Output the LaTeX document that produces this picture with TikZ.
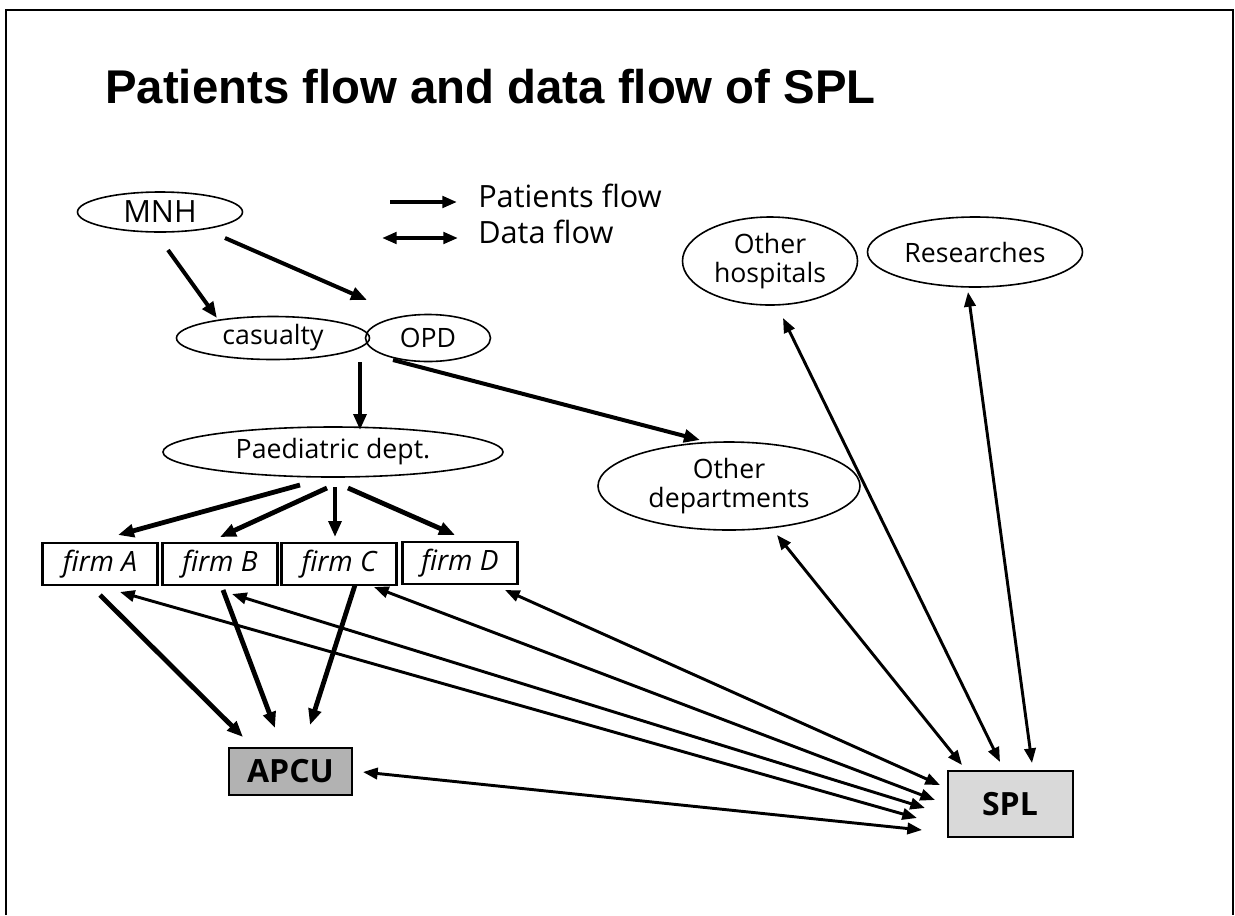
\documentclass[tikz,border=0pt]{standalone}
\usepackage{fontspec}
\setmainfont{Open Sans}
\newfontfamily\titlefont{Liberation Sans}
\usetikzlibrary{arrows.meta,shapes.geometric}
\begin{document}
\begin{tikzpicture}[x=0.75pt,y=-0.75pt,
  oval/.style={ellipse, draw, line width=1.2pt, inner sep=0pt, align=center,
    font=\fontsize{20}{21.5}\selectfont},
  firmbox/.style={rectangle, draw, line width=1.6pt, inner sep=0pt,
    minimum width=86.25pt, minimum height=31.5pt, font=\fontsize{21}{22}\selectfont\itshape},
  grbox/.style={rectangle, draw, line width=1.5pt, inner sep=0pt,
    font=\fontsize{24}{26}\selectfont\bfseries},
  pat/.style={line width=3pt, -{Triangle[length=12pt,width=9.5pt]}},
  data/.style={line width=2.2pt, {Triangle[length=11pt,width=8.5pt]}-{Triangle[length=11pt,width=8.5pt]}},
  legtext/.style={anchor=base west, inner sep=0pt, font=\fontsize{23}{25}\selectfont}]
\useasboundingbox (0,0) rectangle (1235,915);
% frame
\draw[line width=2.2pt] (6,915) -- (6,10) -- (1233,10) -- (1233,915);
% title
\node[anchor=base west, inner sep=0pt, font=\titlefont\bfseries\fontsize{35.5}{40}\selectfont]
  (title) at (105,103) {Patients flow and data flow of SPL};
% legend
\coordinate (lp1) at (390,202); \coordinate (lp2) at (457,202);
\coordinate (ld1) at (382,238); \coordinate (ld2) at (458,238);
\draw[line width=2.8pt, -{Triangle[length=11pt,width=8.5pt]}] (lp1) -- (lp2);
\draw[line width=2.8pt, {Triangle[length=11pt,width=8.5pt]}-{Triangle[length=11pt,width=8.5pt]}] (ld1) -- (ld2);
\node[legtext] (lgp) at (478,207) {Patients flow};
\node[legtext] (lgd) at (478,243) {Data flow};
% nodes
\node[oval, minimum width=123.75pt, minimum height=30pt, font=\fontsize{23}{25}\selectfont] (MNH) at (160,212) {MNH};
\node[oval, minimum width=144.75pt, minimum height=32.25pt] (cas) at (273,338) {casualty};
\node[oval, minimum width=93.75pt, minimum height=35.25pt] (OPD) at (428,338) {OPD};
\node[oval, minimum width=255pt, minimum height=37.5pt] (paed) at (333,452) {Paediatric dept.};
\node[oval, minimum width=196.5pt, minimum height=66pt] (odep) at (729,486) {Other\\departments};
\node[oval, minimum width=131.25pt, minimum height=66pt] (ohos) at (770,261) {Other\\hospitals};
\node[oval, minimum width=161.25pt, minimum height=52.5pt] (res) at (975,252) {Researches};
\node[firmbox] (fA) at (100,564) {firm A};
\node[firmbox] (fB) at (220,564) {firm B};
\node[firmbox] (fC) at (339,564) {firm C};
\node[firmbox] (fD) at (460,563) {firm D};
\node[grbox, fill=gray!60, minimum width=92.25pt, minimum height=35.25pt] (APCU) at (290.5,771.5) {APCU};
\node[grbox, fill=gray!30, minimum width=93.75pt, minimum height=49.5pt] (SPL) at (1010,804) {SPL};
% patient flow
\draw[pat] ([shift={(8,38)}]MNH.center) -- ([shift={(-56,-20)}]cas.center);
\draw[pat] ([shift={(65,26)}]MNH.center) -- ([shift={(-61,-38)}]OPD.center);
\draw[pat] ([shift={(87,24)}]cas.center) -- ([shift={(27,-22)}]paed.center);
\draw[pat] ([shift={(-35,22)}]OPD.center) -- ([shift={(-29,-46)}]odep.center);
\draw[pat, line width=3.6pt] ([shift={(-33,33)}]paed.center) -- ([shift={(18,-29)}]fA.center);
\draw[pat, line width=3.6pt] ([shift={(-6,36)}]paed.center) -- ([shift={(0,-27)}]fB.center);
\draw[pat, line width=3.6pt] ([shift={(2,35)}]paed.center) -- ([shift={(-4,-27)}]fC.center);
\draw[pat, line width=3.6pt] ([shift={(15,36)}]paed.center) -- ([shift={(-5,-28)}]fD.center);
\draw[pat, line width=3.6pt] ([shift={(0,31)}]fA.center) -- ([shift={(-47.5,-34.5)}]APCU.center);
\draw[pat, line width=3.6pt] ([shift={(3,26)}]fB.center) -- ([shift={(-15.5,-43.5)}]APCU.center);
\draw[pat, line width=3.6pt] ([shift={(16,21)}]fC.center) -- ([shift={(19.5,-46.5)}]APCU.center);
% data flow
\draw[data] ([shift={(20,28)}]fA.center) -- ([shift={(-93,14)}]SPL.center);
\draw[data] ([shift={(12,30)}]fB.center) -- ([shift={(-85,4)}]SPL.center);
\draw[data] ([shift={(35,23)}]fC.center) -- ([shift={(-75,-4)}]SPL.center);
\draw[data] ([shift={(45,27)}]fD.center) -- ([shift={(-70,-19)}]SPL.center);
\draw[data] ([shift={(72.5,0.5)}]APCU.center) -- ([shift={(-88,26)}]SPL.center);
\draw[data] ([shift={(48,49)}]odep.center) -- ([shift={(-48,-39)}]SPL.center);
\draw[data] ([shift={(13,57)}]ohos.center) -- ([shift={(-10,-42)}]SPL.center);
\draw[data] ([shift={(-7,40)}]res.center) -- ([shift={(22,-41)}]SPL.center);
\end{tikzpicture}
\end{document}
